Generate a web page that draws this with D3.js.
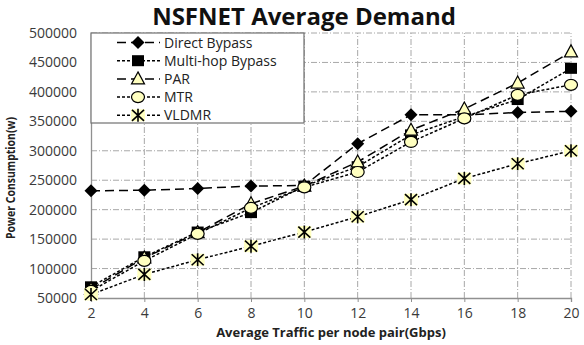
<!DOCTYPE html>
<html>
<head>
<meta charset="utf-8">
<script src="https://cdn.jsdelivr.net/npm/d3@7"></script>
<style>
body { margin: 0; background: #fff; }
svg { display: block; }
text { font-family: "Open Sans", sans-serif; }
</style>
</head>
<body>
<svg width="584" height="345"></svg>
<script>
var categories = [2, 4, 6, 8, 10, 12, 14, 16, 18, 20];
var directBypass = [232000, 233000, 236000, 240000, 241000, 312000, 361000, 361000, 365000, 367000];
var multiHopBypass = [69000, 120000, 162000, 195000, 240000, 273000, 327000, 358000, 387000, 440000];
var par = [65000, 118000, 161000, 210000, 240000, 281000, 335000, 371000, 415000, 468000];
var mtr = [62000, 113000, 159000, 203000, 238000, 264000, 315000, 355000, 395000, 412000];
var vldmr = [56000, 90000, 115000, 138000, 162000, 188000, 217000, 253000, 278000, 300000];
var yTicks = [50000, 100000, 150000, 200000, 250000, 300000, 350000, 400000, 450000, 500000];

var series = [
    {name: "Direct Bypass", values: directBypass, dash: "9,5", marker: "diamond"},
    {name: "Multi-hop Bypass", values: multiHopBypass, dash: "3,2", marker: "square"},
    {name: "PAR", values: par, dash: "9,5", marker: "triangle"},
    {name: "MTR", values: mtr, dash: "3,2", marker: "circle"},
    {name: "VLDMR", values: vldmr, dash: "3,2", marker: "star"}
];

var svg = d3.select("svg");
var yellow = "#ffffc0";

var x = d3.scaleLinear().domain([2, 20]).range([91, 571]);
var y = d3.scaleLinear().domain([50000, 500000]).range([298, 33]);

// grid
svg.append("g").selectAll("line").data(yTicks.slice(1)).enter().append("line")
    .attr("x1", x(2)).attr("x2", x(20))
    .attr("y1", function (d) { return y(d); })
    .attr("y2", function (d) { return y(d); })
    .attr("stroke", "#a8a8a8").attr("stroke-dasharray", "6,2,1,2");
svg.append("g").selectAll("line").data(categories.slice(1)).enter().append("line")
    .attr("x1", function (d) { return x(d); })
    .attr("x2", function (d) { return x(d); })
    .attr("y1", y(50000)).attr("y2", y(500000))
    .attr("stroke", "#a8a8a8").attr("stroke-dasharray", "6,2,1,2");

// axes
var xAxis = svg.append("g").attr("transform", "translate(0," + y(50000) + ")")
    .call(d3.axisBottom(x).tickValues(categories).tickSize(4).tickPadding(6));
var yAxis = svg.append("g").attr("transform", "translate(" + x(2) + ",0)")
    .call(d3.axisLeft(y).tickValues(yTicks).tickSize(0).tickPadding(14).tickFormat(d3.format("d")));
[xAxis, yAxis].forEach(function (a) {
    a.select(".domain").attr("stroke", "#909090").attr("stroke-width", 1.3);
    a.selectAll(".tick line").attr("stroke", "#909090");
    a.selectAll("text").attr("font-size", 14).attr("fill", "#3a3a3a")
        .attr("font-family", "'Open Sans', sans-serif");
});

function drawMarker(g, type, cx, cy) {
    if (type === "diamond") {
        g.append("path").attr("d", "M" + cx + "," + (cy - 6.5) + "L" + (cx + 6.5) + "," + cy +
            "L" + cx + "," + (cy + 6.5) + "L" + (cx - 6.5) + "," + cy + "Z").attr("fill", "#000");
    } else if (type === "square") {
        g.append("rect").attr("x", cx - 6).attr("y", cy - 5.5).attr("width", 12).attr("height", 11)
            .attr("fill", "#000");
    } else if (type === "triangle") {
        g.append("path").attr("d", "M" + cx + "," + (cy - 7) + "L" + (cx + 6.5) + "," + (cy + 5) +
            "L" + (cx - 6.5) + "," + (cy + 5) + "Z")
            .attr("fill", yellow).attr("stroke", "#000").attr("stroke-width", 1.2);
    } else if (type === "circle") {
        g.append("ellipse").attr("cx", cx).attr("cy", cy).attr("rx", 6.5).attr("ry", 5.5)
            .attr("fill", yellow).attr("stroke", "#000").attr("stroke-width", 1.2);
    } else {
        g.append("rect").attr("x", cx - 7).attr("y", cy - 6).attr("width", 14).attr("height", 12)
            .attr("fill", yellow);
        g.append("path").attr("d", "M" + (cx - 6) + "," + (cy - 5.5) + "L" + (cx + 6) + "," + (cy + 5.5) +
            "M" + (cx + 6) + "," + (cy - 5.5) + "L" + (cx - 6) + "," + (cy + 5.5) +
            "M" + cx + "," + (cy - 6.5) + "L" + cx + "," + (cy + 6.5))
            .attr("stroke", "#000").attr("stroke-width", 1.6);
    }
}

var line = d3.line()
    .x(function (d, i) { return x(categories[i]); })
    .y(function (d) { return y(d); });

series.forEach(function (s) {
    var g = svg.append("g");
    g.append("path").attr("d", line(s.values)).attr("fill", "none")
        .attr("stroke", "#000").attr("stroke-width", 1.5).attr("stroke-dasharray", s.dash);
    s.values.forEach(function (v, i) {
        drawMarker(g, s.marker, x(categories[i]), y(v));
    });
});

// legend
var legend = svg.append("g");
legend.append("rect").attr("x", 91).attr("y", 33).attr("width", 213).attr("height", 90)
    .attr("fill", "#fff").attr("stroke", "#707070").attr("stroke-width", 1.2);
series.forEach(function (s, i) {
    var ly = 42.5 + i * 18.2;
    var g = legend.append("g");
    g.append("line").attr("x1", 117).attr("x2", 160).attr("y1", ly).attr("y2", ly)
        .attr("stroke", "#000").attr("stroke-width", 1.5).attr("stroke-dasharray", s.dash);
    drawMarker(g, s.marker, 138, ly);
    g.append("text").attr("x", 164).attr("y", ly + 5).attr("font-size", 14).attr("fill", "#222")
        .text(s.name);
});

// titles
svg.append("text").attr("x", 304).attr("y", 25).attr("text-anchor", "middle")
    .attr("font-size", 24).attr("font-weight", "bold").attr("fill", "#111")
    .text("NSFNET Average Demand");
svg.append("text").attr("x", 331).attr("y", 337).attr("text-anchor", "middle")
    .attr("font-size", 13).attr("font-weight", "bold").attr("fill", "#222")
    .text("Average Traffic per node pair(Gbps)");
svg.append("text").attr("transform", "translate(15,178) rotate(-90)").attr("text-anchor", "middle")
    .attr("font-size", 12.5).attr("font-weight", "bold").attr("fill", "#222")
    .attr("textLength", 122).attr("lengthAdjust", "spacingAndGlyphs")
    .text("Power Consumption(w)");
</script>
</body>
</html>
